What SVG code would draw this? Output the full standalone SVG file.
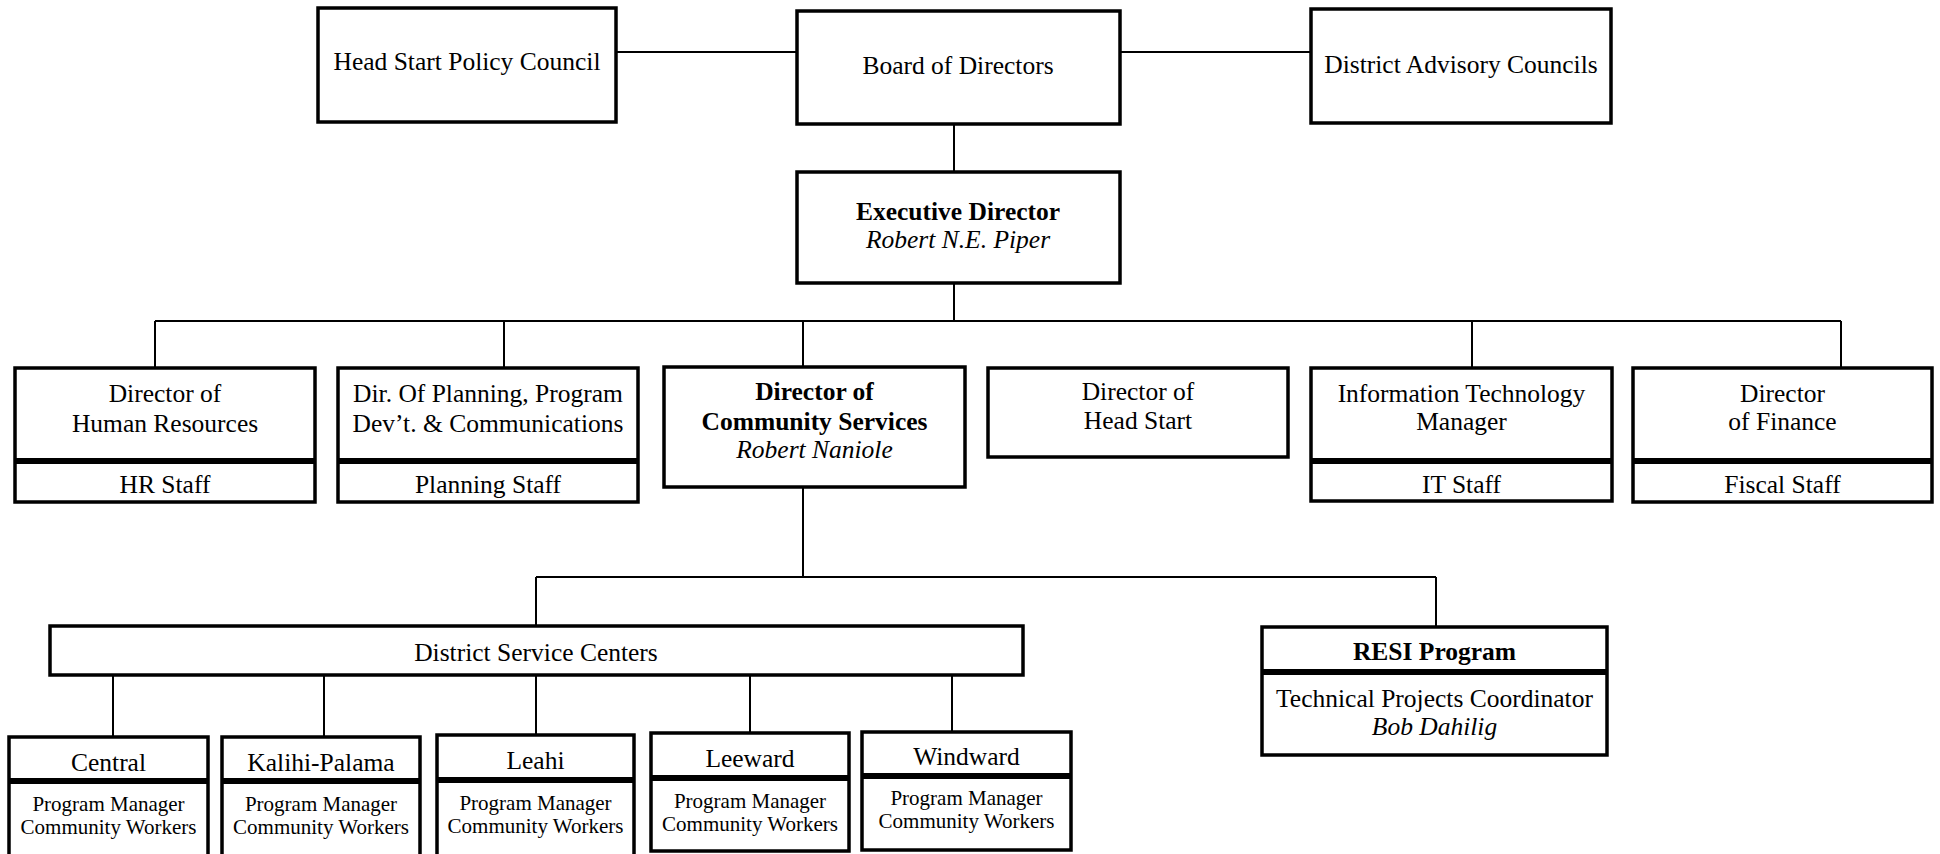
<svg xmlns="http://www.w3.org/2000/svg" width="1940" height="854" viewBox="0 0 1940 854">
<style>
.box{fill:#fff;stroke:#000;stroke-width:3.5}
.sep{stroke:#000;stroke-width:6}
.conn{stroke:#000;stroke-width:2;fill:none}
text{font-family:"Liberation Serif","Times New Roman",serif;font-size:25.5px;text-anchor:middle;fill:#000}
.b{font-weight:bold}
.i{font-style:italic}
.s{font-size:21px}
</style>
<rect width="1940" height="854" fill="#fff"/>
<g id="connectors">
<path class="conn" d="M616 52H797M1120 52H1311"/>
<path class="conn" d="M954 124V172M954 283V321M155 321H1841"/>
<path class="conn" d="M155 321V368M504 321V368M803 321V368M1472 321V368M1841 321V368"/>
<path class="conn" d="M803 487V577M536 577H1436M536 577V626M1436 577V627"/>
<path class="conn" d="M113 675V737M324 675V737M536 675V735M750 675V733M952 675V732"/>
</g>
<g id="head-start-policy-council"><rect class="box" x="318" y="8" width="298" height="114"/><text x="467" y="70">Head Start Policy Council</text></g>
<g id="board-of-directors"><rect class="box" x="797" y="11" width="323" height="113"/><text x="958" y="74">Board of Directors</text></g>
<g id="district-advisory-councils"><rect class="box" x="1311" y="9" width="300" height="114"/><text x="1461" y="73">District Advisory Councils</text></g>
<g id="executive-director"><rect class="box" x="797" y="172" width="323" height="111"/><text class="b" x="958" y="220">Executive Director</text><text class="i" x="958" y="248">Robert N.E. Piper</text></g>
<g id="director-hr"><rect class="box" x="15" y="368" width="300" height="134"/><line class="sep" x1="15" y1="461" x2="315" y2="461"/><text x="165" y="402">Director of</text><text x="165" y="432">Human Resources</text><text x="165" y="493">HR Staff</text></g>
<g id="director-planning"><rect class="box" x="338" y="368" width="300" height="134"/><line class="sep" x1="338" y1="461" x2="638" y2="461"/><text x="488" y="402">Dir. Of Planning, Program</text><text x="488" y="432">Dev’t. &amp; Communications</text><text x="488" y="493">Planning Staff</text></g>
<g id="director-community-services"><rect class="box" x="664" y="367" width="301" height="120"/><text class="b" x="814.5" y="400">Director of</text><text class="b" x="814.5" y="430">Community Services</text><text class="i" x="814.5" y="458">Robert Naniole</text></g>
<g id="director-head-start"><rect class="box" x="988" y="368" width="300" height="89"/><text x="1138" y="400">Director of</text><text x="1138" y="429">Head Start</text></g>
<g id="it-manager"><rect class="box" x="1311" y="368" width="301" height="133"/><line class="sep" x1="1311" y1="461" x2="1612" y2="461"/><text x="1461.5" y="402">Information Technology</text><text x="1461.5" y="430">Manager</text><text x="1461.5" y="493">IT Staff</text></g>
<g id="director-finance"><rect class="box" x="1633" y="368" width="299" height="134"/><line class="sep" x1="1633" y1="461" x2="1932" y2="461"/><text x="1782.5" y="402">Director</text><text x="1782.5" y="430">of Finance</text><text x="1782.5" y="493">Fiscal Staff</text></g>
<g id="district-service-centers"><rect class="box" x="50" y="626" width="973" height="49"/><text x="536" y="661">District Service Centers</text></g>
<g id="resi-program"><rect class="box" x="1262" y="627" width="345" height="128"/><line class="sep" x1="1262" y1="672" x2="1607" y2="672"/><text class="b" x="1434.5" y="660">RESI Program</text><text x="1434.5" y="707">Technical Projects Coordinator</text><text class="i" x="1434.5" y="735">Bob Dahilig</text></g>
<g id="central"><rect class="box" x="9" y="737" width="199" height="130"/><line class="sep" x1="9" y1="781" x2="208" y2="781"/><text x="108.5" y="771">Central</text><text class="s" x="108.5" y="811">Program Manager</text><text class="s" x="108.5" y="834">Community Workers</text></g>
<g id="kalihi-palama"><rect class="box" x="222" y="737" width="198" height="130"/><line class="sep" x1="222" y1="781" x2="420" y2="781"/><text x="321" y="771">Kalihi-Palama</text><text class="s" x="321" y="811">Program Manager</text><text class="s" x="321" y="834">Community Workers</text></g>
<g id="leahi"><rect class="box" x="437" y="735" width="197" height="130"/><line class="sep" x1="437" y1="780" x2="634" y2="780"/><text x="535.5" y="769">Leahi</text><text class="s" x="535.5" y="810">Program Manager</text><text class="s" x="535.5" y="833">Community Workers</text></g>
<g id="leeward"><rect class="box" x="651" y="733" width="198" height="118"/><line class="sep" x1="651" y1="778" x2="849" y2="778"/><text x="750" y="767">Leeward</text><text class="s" x="750" y="808">Program Manager</text><text class="s" x="750" y="831">Community Workers</text></g>
<g id="windward"><rect class="box" x="862" y="732" width="209" height="118"/><line class="sep" x1="862" y1="776" x2="1071" y2="776"/><text x="966.5" y="765">Windward</text><text class="s" x="966.5" y="805">Program Manager</text><text class="s" x="966.5" y="828">Community Workers</text></g>
</svg>
